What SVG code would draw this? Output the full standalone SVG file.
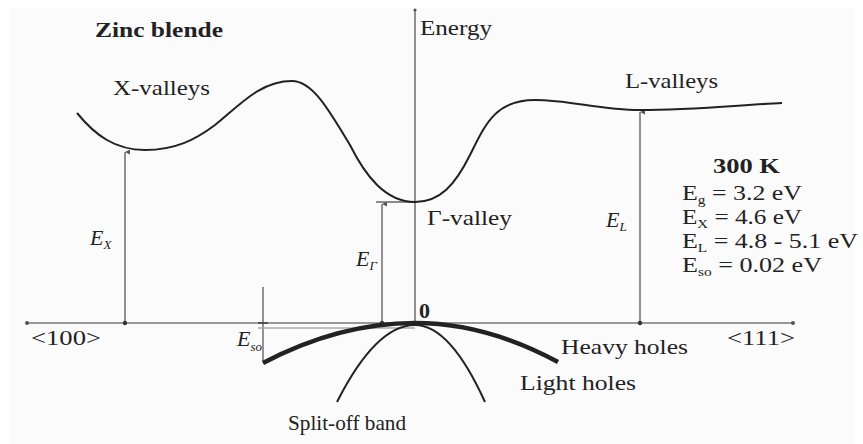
<svg xmlns="http://www.w3.org/2000/svg" width="863" height="444" viewBox="0 0 863 444">
<style>
text{font-family:"Liberation Serif","Times New Roman",serif;fill:#222;font-size:22px}
.b{font-weight:bold}
.i{font-style:italic}
.sub{font-size:13px}
.ax{stroke:#777;stroke-width:1.6;fill:none}
.band{stroke:#222;stroke-width:2;fill:none}
.thick{stroke:#222;stroke-width:4.5;fill:none}
</style>
<defs>
<marker id="ah" viewBox="0 0 10 10" refX="5" refY="0" markerWidth="5" markerHeight="5" orient="auto-start-reverse" markerUnits="userSpaceOnUse">
<path d="M0,10 L5,0 L10,10 z" fill="#555"/>
</marker>
</defs>
<rect width="863" height="444" fill="#fff"/>
<rect x="10" y="8" width="843" height="436" fill="#fbfbfb"/>
<g id="connectors">
<line class="ax" x1="27" y1="323" x2="793" y2="323"/>
<line class="ax" x1="415" y1="10" x2="415" y2="323"/>
<circle cx="27" cy="323" r="2" fill="#555"/>
<circle cx="793" cy="323" r="2" fill="#555"/>
<circle cx="415" cy="10" r="1.6" fill="#555"/>
<line class="ax" x1="125" y1="323" x2="125" y2="152" marker-end="url(#ah)"/>
<line class="ax" x1="382" y1="323" x2="382" y2="204" marker-end="url(#ah)"/>
<line class="ax" x1="640" y1="323" x2="640" y2="112" marker-end="url(#ah)"/>
<circle cx="125" cy="323" r="2.2" fill="#333"/>
<circle cx="382" cy="323" r="2.2" fill="#333"/>
<circle cx="640" cy="323" r="2.2" fill="#333"/>
<line x1="376" y1="202" x2="415" y2="202" stroke="#666" stroke-width="1.4"/>
<line x1="263" y1="287" x2="263" y2="362" stroke="#666" stroke-width="1.4"/>
<line x1="258" y1="328" x2="415" y2="328" stroke="#aaa" stroke-width="1.4"/>
<line x1="258" y1="323" x2="268" y2="323" stroke="#444" stroke-width="1.6"/>
</g>
<g id="conduction-band">
<path class="band" d="M77,113 C95,135 115,150 145,150 C175,150 195,140 215,125 C240,105 260,81 292,81 C312,81 328,108 350,145 C365,175 385,202 415,202 C440,202 455,185 470,155 C485,125 495,100 535,100 C570,100 600,110 640,110 C690,110 740,105 782,103"/>
</g>
<g id="heavy-holes">
<path class="thick" d="M263,363 Q339,323 415,323 Q486,323 558,362"/>
</g>
<g id="light-holes">
<path class="band" d="M337,402 Q376,325 415,325 Q450,325 485,402"/>
</g>
<g id="labels">
<text class="b" x="95" y="37" textLength="128" lengthAdjust="spacingAndGlyphs">Zinc blende</text>
<text x="420" y="35" textLength="72" lengthAdjust="spacingAndGlyphs">Energy</text>
<text x="113" y="95" textLength="97" lengthAdjust="spacingAndGlyphs">X-valleys</text>
<text x="625" y="88" textLength="93" lengthAdjust="spacingAndGlyphs">L-valleys</text>
<text x="427" y="225" textLength="85" lengthAdjust="spacingAndGlyphs">Γ-valley</text>
<text class="b" x="713" y="173" textLength="67" lengthAdjust="spacingAndGlyphs">300 K</text>
<text x="682" y="200" font-size="23" textLength="120" lengthAdjust="spacingAndGlyphs">E<tspan class="sub" dy="4">g</tspan><tspan dy="-4"> = 3.2 eV</tspan></text>
<text x="682" y="224" font-size="23" textLength="120" lengthAdjust="spacingAndGlyphs">E<tspan class="sub" dy="4">X</tspan><tspan dy="-4"> = 4.6 eV</tspan></text>
<text x="682" y="248" font-size="23" textLength="176" lengthAdjust="spacingAndGlyphs">E<tspan class="sub" dy="4">L</tspan><tspan dy="-4"> = 4.8 - 5.1 eV</tspan></text>
<text x="682" y="272" font-size="23" textLength="140" lengthAdjust="spacingAndGlyphs">E<tspan class="sub" dy="4">so</tspan><tspan dy="-4"> = 0.02 eV</tspan></text>
<text class="i" x="90" y="245">E<tspan class="sub" dy="4">X</tspan></text>
<text class="i" x="356" y="266">E<tspan class="sub" dy="4">Γ</tspan></text>
<text class="i" x="606" y="227">E<tspan class="sub" dy="4">L</tspan></text>
<text class="i" x="237" y="346">E<tspan class="sub" dy="5">so</tspan></text>
<text class="b" x="419" y="318" font-size="20">0</text>
<text x="31" y="345" textLength="70" lengthAdjust="spacingAndGlyphs">&lt;100&gt;</text>
<text x="727" y="345" textLength="68" lengthAdjust="spacingAndGlyphs">&lt;111&gt;</text>
<text x="561" y="354" textLength="127" lengthAdjust="spacingAndGlyphs">Heavy holes</text>
<text x="520" y="390" textLength="116" lengthAdjust="spacingAndGlyphs">Light holes</text>
<text x="288" y="430" font-size="23" textLength="118" lengthAdjust="spacingAndGlyphs">Split-off band</text>
</g>
</svg>
